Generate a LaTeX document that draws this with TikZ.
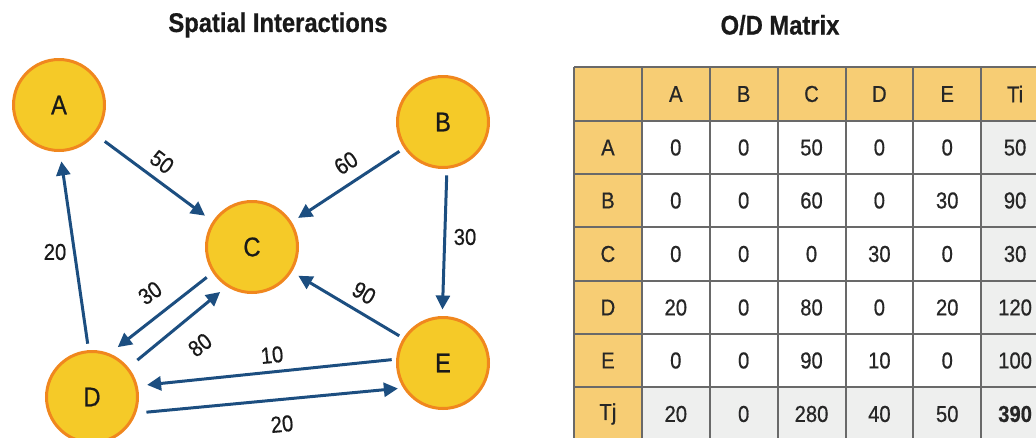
\documentclass[tikz,border=0pt]{standalone}
\usepackage{fontspec}
\setmainfont{Liberation Sans}
\newfontfamily\nar[FakeStretch=0.88,FakeBold=0.6]{Liberation Sans}
\usetikzlibrary{arrows.meta}
\definecolor{flow}{RGB}{28,78,128}
\definecolor{nodefill}{RGB}{245,202,40}
\definecolor{nodeedge}{RGB}{240,135,30}
\definecolor{hdr}{RGB}{247,205,116}
\definecolor{tot}{RGB}{238,239,238}
\definecolor{gridc}{RGB}{105,105,105}
\begin{document}
\begin{tikzpicture}[x=1pt,y=-1pt,
  place/.style={circle, draw=nodeedge, fill=nodefill, line width=3pt, minimum size=91pt, inner sep=0pt, outer sep=0pt, font=\nar\fontsize{27}{30}\selectfont, text=black!90},
  flowarrow/.style={draw=flow, line width=3pt, -{Triangle[length=14pt,width=14pt]}, shorten <=9pt, shorten >=9pt},
  flowlab/.style={font=\nar\fontsize{23}{26}\selectfont, inner sep=0pt, text=black!90},
  ttl/.style={font=\nar\bfseries\fontsize{27}{30}\selectfont, text=black!90},
  cell/.style={font=\nar\fontsize{23}{26}\selectfont, text=black!85, inner sep=0pt},
  gridline/.style={draw=gridc, line width=1.8pt}]
\useasboundingbox (0,0) rectangle (1036,437);
\clip (0,0) rectangle (1036,437);

% titles
\node[ttl] (t1) at (278,25) {Spatial Interactions};
\node[ttl] (t2) at (780,25) {O/D Matrix};

% places
\node[place] (A) at (59,105) {A};
\node[place] (B) at (443,122) {B};
\node[place] (C) at (252,247) {C};
\node[place] (D) at (92,397) {D};
\node[place] (E) at (443,363) {E};

% flows
\draw[flowarrow, shorten <=13pt, shorten >=11pt] (A.-39.6) -- (C.147.7);
\draw[flowarrow, shorten <=7pt] (B.-146.3) -- (C.32.5);
\draw[flowarrow, shorten <=8pt, shorten >=8pt] (B.-85.8) -- (E.91);
\draw[flowarrow, shorten <=8pt, shorten >=11pt] (D.94) -- (A.-89);
\draw[flowarrow, shorten <=9pt, shorten >=12pt] (C.-147.4) -- (D.69);
\draw[flowarrow, shorten <=13pt, shorten >=10pt] (D.39) -- (C.-122);
\draw[flowarrow, shorten <=6pt, shorten >=9pt] (E.148) -- (C.-32.5);
\draw[flowarrow, shorten <=6pt, shorten >=11pt] (E.175.7) -- (D.14);
\draw[flowarrow, shorten <=12pt, shorten >=7pt] (D.-21) -- (E.213);

% flow labels
\node[flowlab, rotate=-36.7] (l1) at (162,162) {50};
\node[flowlab, rotate=33.3] (l2) at (346,163) {60};
\node[flowlab] (l3) at (465,237) {30};
\node[flowlab] (l4) at (55,252) {20};
\node[flowlab, rotate=35] (l5) at (150,293) {30};
\node[flowlab, rotate=37.6] (l6) at (200,345) {80};
\node[flowlab, rotate=-30.4] (l7) at (364,293) {90};
\node[flowlab, rotate=5.7] (l8) at (272,355) {10};
\node[flowlab, rotate=5.9] (l9) at (282,424) {20};

% table
\fill[hdr] (574,67) rectangle (1049,121);
\fill[hdr] (574,121) rectangle (642,441);
\fill[white] (642,121) rectangle (981,387);
\fill[tot] (981,121) rectangle (1049,441);
\fill[tot] (642,387) rectangle (981,441);
\foreach \x in {574,642,710,778,846,913,981,1049}
  \draw[gridline] (\x,67) -- (\x,441);
\foreach \y in {67,121,174,227,281,334,387,441}
  \draw[gridline] (574,\y) -- (1049,\y);

\foreach \v [count=\i from 2] in {A,B,C,D,E,Ti}
  \node[cell] (h-\i) at ({574+67.86*(\i-0.5)},94) {\v};
\foreach \v [count=\i] in {A,0,0,50,0,0,50}
  \node[cell] (rA-\i) at ({574+67.86*(\i-0.5)},147.5) {\v};
\foreach \v [count=\i] in {B,0,0,60,0,30,90}
  \node[cell] (rB-\i) at ({574+67.86*(\i-0.5)},200.5) {\v};
\foreach \v [count=\i] in {C,0,0,0,30,0,30}
  \node[cell] (rC-\i) at ({574+67.86*(\i-0.5)},254) {\v};
\foreach \v [count=\i] in {D,20,0,80,0,20,120}
  \node[cell] (rD-\i) at ({574+67.86*(\i-0.5)},307.5) {\v};
\foreach \v [count=\i] in {E,0,0,90,10,0,100}
  \node[cell] (rE-\i) at ({574+67.86*(\i-0.5)},360.5) {\v};
\foreach \v [count=\i] in {Tj,20,0,280,40,50,\bfseries 390}
  \node[cell] (rT-\i) at ({574+67.86*(\i-0.5)},414) {\v};
\end{tikzpicture}
\end{document}
